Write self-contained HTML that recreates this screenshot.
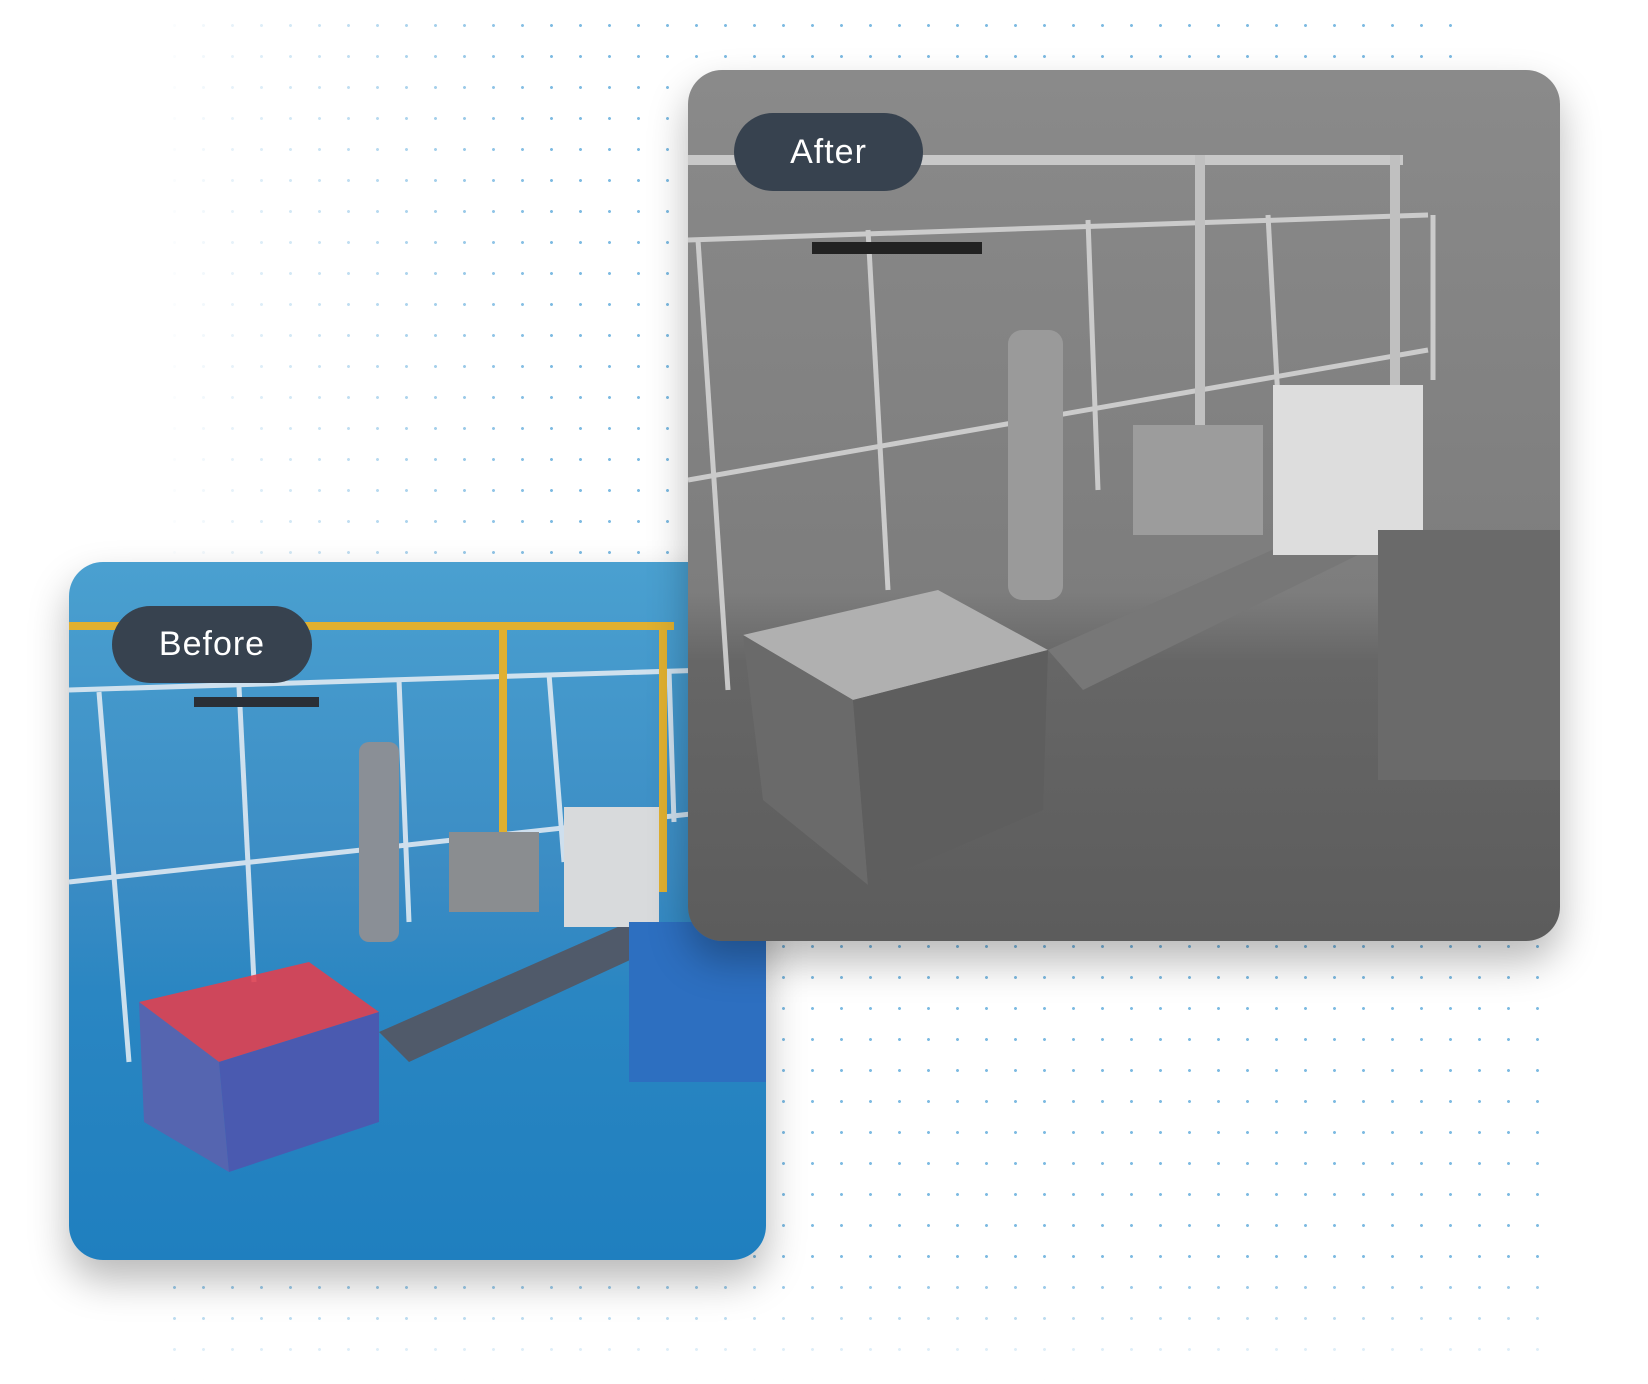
<!DOCTYPE html>
<html><head><meta charset="utf-8"><style>
html,body{margin:0;padding:0;background:#fff;width:1648px;height:1384px;overflow:hidden;position:relative;font-family:"Liberation Sans",sans-serif}
.dots{position:absolute;background-image:radial-gradient(circle,#2a8fd0 1.3px,transparent 1.7px);background-size:29px 31px;opacity:.6}
.card{position:absolute;border-radius:34px;overflow:hidden;box-shadow:0 20px 40px rgba(0,0,0,.28)}
.pill{position:absolute;background:#37424f;color:#fff;border-radius:40px;font-size:34px;display:flex;align-items:center;justify-content:center;letter-spacing:1px}
</style></head><body>
<div class="dots" style="left:160px;top:10px;width:1300px;height:640px;-webkit-mask-image:linear-gradient(90deg,transparent 0,#000 30%,#000 100%)"></div>
<div class="dots" style="left:160px;top:900px;width:1380px;height:480px;-webkit-mask-image:linear-gradient(180deg,#000 0,#000 75%,transparent 100%)"></div>

<div class="card" style="left:69px;top:562px;width:697px;height:698px;background:linear-gradient(180deg,#4aa0d0 0%,#3b8cc4 45%,#2a86c2 62%,#1f7fbf 100%)">
<svg width="697" height="698">
 <g stroke="#e8eef5" stroke-width="5" fill="none" opacity=".85">
  <line x1="0" y1="128" x2="640" y2="108"/><line x1="0" y1="320" x2="640" y2="250"/>
  <line x1="30" y1="130" x2="60" y2="500"/><line x1="170" y1="125" x2="185" y2="420"/>
  <line x1="330" y1="118" x2="340" y2="360"/><line x1="480" y1="112" x2="495" y2="300"/><line x1="600" y1="108" x2="605" y2="260"/>
 </g>
 <rect x="0" y="60" width="605" height="8" fill="#e0b030"/><rect x="430" y="60" width="8" height="220" fill="#e0b030"/><rect x="590" y="60" width="8" height="270" fill="#e0b030"/>
 <rect x="125" y="135" width="125" height="10" fill="#2a2f36"/>
 <polygon points="70,440 240,400 310,450 150,500" fill="#e04050" opacity=".9"/>
 <polygon points="70,440 150,500 160,610 75,560" fill="#5565b0"/>
 <polygon points="150,500 310,450 310,560 160,610" fill="#4a5ab0"/>
 <rect x="290" y="180" width="40" height="200" fill="#8a8f96" rx="10"/>
 <polygon points="310,470 560,360 600,380 340,500" fill="#505a6a"/>
 <rect x="495" y="245" width="95" height="120" fill="#d8dadc"/>
 <rect x="380" y="270" width="90" height="80" fill="#8a8d90"/>
 <rect x="560" y="360" width="137" height="160" fill="#2d6fc0"/>
</svg>
</div>

<div class="card" style="left:688px;top:70px;width:872px;height:871px;background:linear-gradient(180deg,#8a8a8a 0%,#7d7d7d 60%,#666 68%,#5c5c5c 100%)">
<svg width="872" height="871">
 <g stroke="#d8d8d8" stroke-width="5" fill="none" opacity=".85">
  <line x1="0" y1="170" x2="740" y2="145"/><line x1="0" y1="410" x2="740" y2="280"/>
  <line x1="10" y1="170" x2="40" y2="620"/><line x1="180" y1="160" x2="200" y2="520"/>
  <line x1="400" y1="150" x2="410" y2="420"/><line x1="580" y1="145" x2="590" y2="330"/><line x1="745" y1="145" x2="745" y2="310"/>
 </g>
 <rect x="0" y="85" width="715" height="10" fill="#c8c8c8"/><rect x="507" y="85" width="10" height="360" fill="#c0c0c0"/><rect x="702" y="85" width="10" height="330" fill="#c0c0c0"/>
 <rect x="124" y="172" width="170" height="12" fill="#222"/>
 <polygon points="55,565 250,520 360,580 165,630" fill="#b0b0b0"/>
 <polygon points="55,565 165,630 180,815 75,730" fill="#6a6a6a"/>
 <polygon points="165,630 360,580 355,740 180,815" fill="#5e5e5e"/>
 <rect x="320" y="260" width="55" height="270" fill="#9a9a9a" rx="14"/>
 <polygon points="360,580 640,455 680,480 395,620" fill="#777"/>
 <rect x="585" y="315" width="150" height="170" fill="#ddd"/>
 <rect x="445" y="355" width="130" height="110" fill="#9c9c9c"/>
 <rect x="690" y="460" width="182" height="250" fill="#6a6a6a"/>
</svg>
</div>

<div class="pill" style="left:734px;top:113px;width:189px;height:78px">After</div>
<div class="pill" style="left:112px;top:606px;width:200px;height:77px">Before</div>
</body></html>
